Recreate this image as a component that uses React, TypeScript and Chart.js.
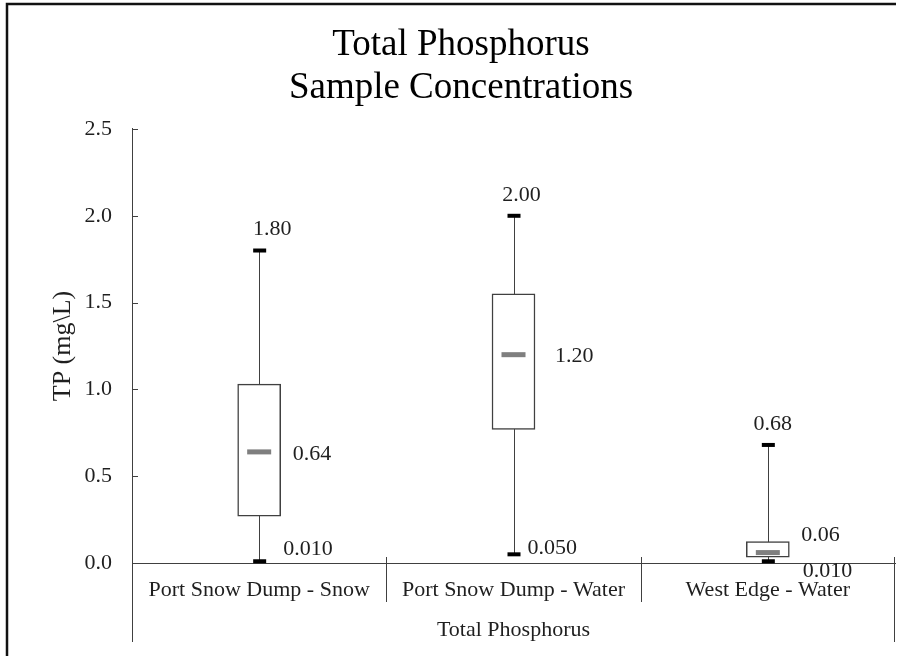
import React, { useEffect, useRef } from "react";
import { Chart, registerables } from "chart.js";

Chart.register(...registerables);

// ---------- data ----------
const categories = ["Port Snow Dump - Snow", "Port Snow Dump - Water", "West Edge - Water"];
const minValues = [0.01, 0.05, 0.01];
const q1Values = [0.27, 0.77, 0.033];
const medianValues = [0.64, 1.2, 0.06];
const q3Values = [1.03, 1.55, 0.123];
const maxValues = [1.8, 2.0, 0.68];
const yTickValues = [0, 0.5, 1.0, 1.5, 2.0, 2.5];

const chartTitle = ["Total Phosphorus", "Sample Concentrations"];
const yTitle = "TP (mg\\L)";
const xTitle = "Total Phosphorus";

// ---------- style / layout ----------
const FONT = "'Liberation Serif', 'Times New Roman', Times, serif";
const INK = "#1f1f1f";
const AXIS = "#404040";
// label offsets in px (layout only)
const MAX_LABEL_NUDGE = [[13, -21], [8, -21], [5, -21]]; // label centre relative to top cap
const MED_LABEL_NUDGE = [[12, 2], [20, 2], [12, -17]]; // label left relative to box right edge
const MIN_LABEL_NUDGE = [[24, -12], [14, -6], [35, 10]]; // label left relative to whisker

const boxPlugin = {
  id: "boxExtras",
  beforeDraw(chart: any) {
    const ctx = chart.ctx;
    ctx.save();
    ctx.strokeStyle = "#111";
    ctx.lineWidth = 2.5;
    ctx.beginPath();
    ctx.moveTo(7, chart.height);
    ctx.lineTo(7, 4);
    ctx.lineTo(896, 4);
    ctx.stroke();
    ctx.restore();
  },
  beforeDatasetsDraw(chart: any) {
    const ctx = chart.ctx;
    const x = chart.scales.x;
    const y = chart.scales.y;
    ctx.save();
    ctx.strokeStyle = AXIS;
    ctx.lineWidth = 1;
    categories.forEach((_, i) => {
      const cx = Math.round(x.getPixelForValue(i)) + 0.5;
      ctx.beginPath();
      ctx.moveTo(cx, y.getPixelForValue(minValues[i]));
      ctx.lineTo(cx, y.getPixelForValue(maxValues[i]));
      ctx.stroke();
    });
    ctx.restore();
  },
  afterDatasetsDraw(chart: any) {
    const ctx = chart.ctx;
    const x = chart.scales.x;
    const y = chart.scales.y;
    const area = chart.chartArea;
    const meta = chart.getDatasetMeta(0);
    ctx.save();

    // y ticks pointing inward
    ctx.strokeStyle = AXIS;
    ctx.lineWidth = 1;
    yTickValues.forEach((v) => {
      const py = Math.round(y.getPixelForValue(v)) + 0.5;
      ctx.beginPath();
      ctx.moveTo(area.left, py);
      ctx.lineTo(area.left + 6, py);
      ctx.stroke();
    });

    // axis extensions and category separators
    const bottom = area.bottom;
    const leftX = Math.round(area.left) + 0.5;
    const rightX = Math.round(x.getPixelForValue(categories.length - 0.5)) - 0.5;
    ctx.beginPath();
    ctx.moveTo(leftX, bottom);
    ctx.lineTo(leftX, bottom + 79);
    ctx.moveTo(rightX, bottom - 6);
    ctx.lineTo(rightX, bottom + 79);
    for (let i = 0; i < categories.length - 1; i++) {
      const sx = Math.round(x.getPixelForValue(i + 0.5)) + 0.5;
      ctx.moveTo(sx, bottom - 6);
      ctx.lineTo(sx, bottom + 39);
    }
    ctx.stroke();

    // caps
    ctx.fillStyle = "#000";
    categories.forEach((_, i) => {
      const cx = x.getPixelForValue(i);
      [minValues[i], maxValues[i]].forEach((v) => {
        const py = y.getPixelForValue(v);
        ctx.fillRect(cx - 6, py - 2, 13, 4);
      });
    });

    // medians
    ctx.fillStyle = "#7f7f7f";
    categories.forEach((_, i) => {
      const cx = x.getPixelForValue(i);
      const py = y.getPixelForValue(medianValues[i]);
      ctx.fillRect(cx - 12, py - 2.5, 24, 5);
    });

    // labels
    ctx.fillStyle = INK;
    ctx.font = `22px ${FONT}`;
    ctx.textBaseline = "middle";
    categories.forEach((_, i) => {
      const cx = x.getPixelForValue(i);
      const el = meta.data[i];
      const boxRight = el.x + el.width / 2;
      // max
      ctx.textAlign = "center";
      ctx.fillText(maxValues[i].toFixed(2), cx + MAX_LABEL_NUDGE[i][0], y.getPixelForValue(maxValues[i]) + MAX_LABEL_NUDGE[i][1]);
      // median
      ctx.textAlign = "left";
      ctx.fillText(medianValues[i].toFixed(2), boxRight + MED_LABEL_NUDGE[i][0], y.getPixelForValue(medianValues[i]) + MED_LABEL_NUDGE[i][1]);
      // min
      ctx.fillText(minValues[i].toFixed(3), cx + MIN_LABEL_NUDGE[i][0], y.getPixelForValue(minValues[i]) + MIN_LABEL_NUDGE[i][1]);
    });
    ctx.restore();
  },
};

export default function App() {
  const canvasRef = useRef<HTMLCanvasElement | null>(null);

  useEffect(() => {
    const canvas = canvasRef.current;
    if (!canvas) return;
    Chart.defaults.font.family = FONT;
    const chart = new Chart(canvas, {
      type: "bar",
      data: {
        labels: categories,
        datasets: [
          {
            label: "IQR",
            data: categories.map((_, i) => [q1Values[i], q3Values[i]]) as any,
            backgroundColor: "#ffffff",
            borderColor: AXIS,
            borderWidth: 1.5,
            borderSkipped: false,
            barThickness: 43,
          },
        ],
      },
      options: {
        animation: false,
        responsive: false,
        maintainAspectRatio: false,
        layout: { padding: { left: 27, right: 5, top: 0, bottom: 0 } },
        plugins: {
          legend: { display: false },
          tooltip: { enabled: false },
          title: {
            display: true,
            text: chartTitle,
            color: "#000",
            font: { family: FONT, size: 37, weight: "normal", lineHeight: 1.162 },
            padding: { top: 24, bottom: 19 },
          },
        },
        scales: {
          x: {
            type: "category",
            offset: true,
            grid: { display: false, drawTicks: false },
            border: { display: true, color: AXIS, width: 1 },
            ticks: { color: INK, font: { family: FONT, size: 22 }, padding: 14, maxRotation: 0, autoSkip: false },
            title: {
              display: true,
              text: xTitle,
              color: INK,
              font: { family: FONT, size: 22, lineHeight: 1.2 },
              padding: { top: 0, bottom: 13 },
            },
            afterFit: (s: any) => {
              s.height = 93;
            },
          },
          y: {
            type: "linear",
            min: 0,
            max: 2.5,
            grid: { display: false, drawTicks: false },
            border: { display: true, color: AXIS, width: 1 },
            ticks: {
              stepSize: 0.5,
              color: INK,
              padding: 20,
              font: { family: FONT, size: 22 },
              callback: (v: any) => Number(v).toFixed(1),
            },
            title: {
              display: true,
              text: yTitle,
              color: INK,
              font: { family: FONT, size: 26, lineHeight: 1.2 },
              padding: { top: 21, bottom: 0 },
            },
            afterFit: (s: any) => {
              s.width = 105;
            },
          },
        },
      },
      plugins: [boxPlugin],
    });
    return () => chart.destroy();
  }, []);

  return (
    <div style={{ position: "absolute", left: 0, top: 0, width: 900, height: 656, background: "#fff" }}>
      <canvas ref={canvasRef} width={900} height={656} style={{ display: "block" }} />
    </div>
  );
}
